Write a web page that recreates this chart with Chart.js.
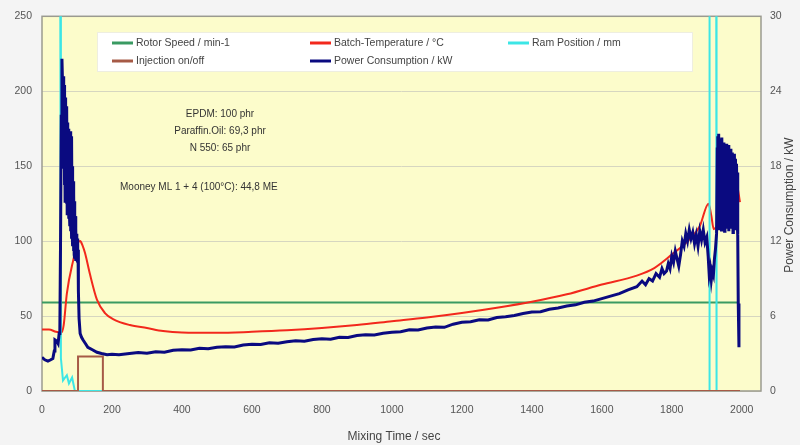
<!DOCTYPE html>
<html>
<head>
<meta charset="utf-8">
<title>Mixing Time Protocol</title>
<script src="https://cdn.jsdelivr.net/npm/chart.js@4.4.1/dist/chart.umd.min.js"></script>
<style>
  html, body { margin: 0; padding: 0; background: #f4f4f4; }
  #wrap { width: 800px; height: 445px; }
</style>
</head>
<body>
<div id="wrap"><canvas id="mixChart" width="800" height="445"></canvas></div>
<script>
// axis ticks
const timeTicks = [0, 200, 400, 600, 800, 1000, 1200, 1400, 1600, 1800, 2000];
const leftTicks = [0, 50, 100, 150, 200, 250];
const powerTicks = [0, 6, 12, 18, 24, 30];

// rotor speed / min-1
const rotorTime = [0, 1990];
const rotorSpeed = [59, 59];

// batch temperature / °C
const tempTime = [0, 20, 40, 55, 62, 71, 89, 103, 109, 116, 123, 137, 157, 180, 203, 251, 300, 346, 400, 500,
  600, 700, 800, 900, 1000, 1100, 1200, 1300, 1400, 1500, 1600, 1700, 1750, 1800, 1850, 1880, 1905, 1913, 1920,
  1950, 1985, 1995];
const batchTemp = [41, 41, 39.5, 39, 44, 65, 87, 99, 100, 97, 92, 78, 61, 52, 48, 44, 42, 40, 39, 38.8,
  39.5, 40.5, 42, 44, 46.5, 49, 52, 55.5, 59.5, 64.5, 71, 77, 82, 91, 101, 110, 125, 117, 108,
  122, 138, 126];

// ram position / mm (above 250 = out of range, ram up)
const ramTime = [0, 52, 54, 60, 66, 71, 77, 86, 94, 1907, 1908, 1927, 1928, 1995];
const ramPos = [290, 290, 22, 7, 9, 10.5, 5, 9, 0, 0, 290, 290, 0, 0];

// injection on/off
const injTime = [0, 103, 103, 174, 174, 1995];
const injection = [0, 0, 23, 23, 0, 0];

// power consumption / kW
const powerTime = [0, 8, 17, 25, 31, 35, 37, 42, 46, 49, 51, 53, 55, 57, 59, 60, 61, 62, 63, 64,
  65, 66, 67, 68, 69, 70, 71, 72, 73, 74, 75, 76, 77, 78, 79, 80, 81, 82, 83, 84,
  85, 86, 87, 88, 89, 90, 91, 92, 93, 94, 95, 96, 97, 98, 99, 100, 101, 102, 103, 104,
  106, 109, 113, 117, 124, 131, 144, 157, 170, 186, 200, 220, 250, 275, 300, 325, 350, 375, 400, 425,
  450, 475, 500, 525, 550, 575, 600, 625, 650, 675, 700, 725, 750, 775, 800, 825, 850, 875, 900, 925,
  950, 975, 1000, 1025, 1050, 1075, 1100, 1125, 1150, 1175, 1200, 1225, 1250, 1275, 1300, 1325, 1350, 1375, 1400, 1425,
  1450, 1475, 1500, 1525, 1550, 1575, 1600, 1625, 1650, 1675, 1700, 1715, 1725, 1735, 1745, 1755, 1765, 1772, 1778, 1785,
  1790, 1795, 1800, 1805, 1810, 1815, 1820, 1825, 1830, 1835, 1840, 1845, 1850, 1855, 1860, 1865, 1870, 1875, 1880, 1885,
  1890, 1895, 1900, 1904, 1907, 1910, 1913, 1916, 1919, 1922, 1925, 1928, 1930, 1931, 1932, 1933, 1934, 1936, 1937, 1939,
  1940, 1942, 1943, 1945, 1946, 1948, 1949, 1951, 1952, 1954, 1955, 1957, 1958, 1960, 1961, 1963, 1964, 1966, 1967, 1969,
  1970, 1972, 1973, 1975, 1976, 1978, 1979, 1981, 1982, 1984, 1985, 1987, 1988, 1989, 1990, 1992];
const powerKw = [2.7, 2.5, 2.4, 2.5, 2.6, 3.2, 4.1, 4.0, 3.8, 4.6, 4.9, 12, 22, 26.6, 24.3, 19.5, 25.2, 17.8, 24.5, 16.5,
  23.8, 15.2, 23.5, 16.8, 22.6, 15.0, 22.8, 14.2, 21.5, 15.5, 21.0, 13.8, 20.9, 14.5, 20.6, 13.2, 20.8, 12.8, 19.5, 12.2,
  20.4, 13.0, 18.0, 11.6, 16.8, 11.2, 15.8, 10.9, 15.2, 10.6, 14.0, 10.4, 13.0, 10.6, 12.6, 10.5, 12.2, 10.8, 11.3, 8.0,
  5.8, 4.6, 4.3, 4.1, 3.8, 3.5, 3.3, 3.1, 3.0, 2.9, 2.95, 2.9, 3.0, 3.08, 3.02, 3.15, 3.1, 3.26, 3.3, 3.28,
  3.42, 3.38, 3.5, 3.55, 3.52, 3.68, 3.75, 3.72, 3.86, 3.82, 3.95, 4.02, 3.98, 4.12, 4.18, 4.15, 4.3, 4.28, 4.45, 4.5,
  4.48, 4.62, 4.7, 4.75, 4.9, 4.88, 5.05, 5.12, 5.1, 5.35, 5.5, 5.55, 5.7, 5.68, 5.88, 5.95, 6.05, 6.2, 6.32, 6.35,
  6.55, 6.65, 6.8, 6.9, 7.1, 7.2, 7.4, 7.6, 7.8, 8.1, 8.35, 8.8, 8.5, 9.0, 8.8, 9.4, 9.1, 9.8, 9.4, 9.6,
  10.2, 9.8, 10.8, 10.3, 11.2, 10.6, 10.0, 10.9, 12.0, 11.6, 12.6, 12.0, 12.9, 12.2, 12.7, 11.8, 12.5, 11.6, 12.8, 12.1,
  12.9, 11.9, 12.3, 10.8, 9.3, 9.8, 8.9, 9.6, 9.3, 10.6, 11.4, 12.6, 19.5, 13.2, 20.4, 13.5, 20.6, 13.0, 20.2, 13.8,
  19.8, 12.9, 20.3, 13.4, 19.6, 13.1, 19.9, 12.8, 19.5, 13.6, 19.8, 13.0, 19.3, 13.3, 19.7, 12.8, 19.2, 13.5, 19.4, 13.0,
  18.9, 13.2, 19.1, 12.7, 18.8, 13.4, 19.0, 13.0, 18.6, 13.3, 18.2, 13.6, 17.5, 12.5, 7.0, 3.5];

const recipeLines = ['EPDM: 100 phr', 'Paraffin.Oil: 69,3 phr', 'N 550: 65 phr'];
const mooneyText = 'Mooney ML 1 + 4 (100°C): 44,8 ME';

const FONT = '"Liberation Sans", Arial, sans-serif';

function pairs(xs, ys) {
  return xs.map((x, i) => ({ x: x, y: ys[i] }));
}

// plot background and frame
const plotBackground = {
  id: 'plotBackground',
  beforeDraw(chart) {
    const { ctx, chartArea: a } = chart;
    ctx.save();
    ctx.fillStyle = '#f4f4f4';
    ctx.fillRect(0, 0, chart.width, chart.height);
    ctx.fillStyle = '#fcfccb';
    ctx.fillRect(a.left, a.top, a.right - a.left, a.bottom - a.top);
    ctx.restore();
  },
  beforeDatasetsDraw(chart) {
    const { ctx, chartArea: a } = chart;
    ctx.save();
    ctx.strokeStyle = '#9a9a90';
    ctx.lineWidth = 1.5;
    ctx.strokeRect(a.left, a.top, a.right - a.left, a.bottom - a.top);
    ctx.restore();
  }
};

// legend box, recipe notes and axis titles
const chartTexts = {
  id: 'chartTexts',
  afterDatasetsDraw(chart) {
    const ctx = chart.ctx;
    const ds = chart.data.datasets;
    ctx.save();

    ctx.fillStyle = '#ffffff';
    ctx.fillRect(97, 32, 595, 39);
    ctx.strokeStyle = '#eeeee0';
    ctx.lineWidth = 1;
    ctx.strokeRect(97.5, 32.5, 595, 39);

    const cols = [112, 310, 508];
    const rows = [43, 61];
    ctx.font = '10.5px ' + FONT;
    ctx.textBaseline = 'middle';
    ctx.textAlign = 'left';
    ds.forEach((d, i) => {
      const cx = cols[i < 3 ? i : i - 3];
      const cy = rows[i < 3 ? 0 : 1];
      ctx.strokeStyle = d.borderColor;
      ctx.lineWidth = 3;
      ctx.beginPath();
      ctx.moveTo(cx, cy);
      ctx.lineTo(cx + 21, cy);
      ctx.stroke();
      ctx.fillStyle = '#444';
      ctx.fillText(d.label, cx + 24, cy);
    });

    ctx.font = '10px ' + FONT;
    ctx.fillStyle = '#333';
    ctx.textAlign = 'center';
    recipeLines.forEach((t, i) => ctx.fillText(t, 220, 114 + i * 17));
    ctx.textAlign = 'left';
    ctx.fillText(mooneyText, 120, 187);

    ctx.font = '12px ' + FONT;
    ctx.fillStyle = '#444';
    ctx.textAlign = 'center';
    ctx.fillText('Mixing Time / sec', 394, 437);
    ctx.translate(790, 205);
    ctx.rotate(-Math.PI / 2);
    ctx.fillText('Power Consumption / kW', 0, 0);
    ctx.restore();
  }
};

const tickFont = { family: FONT, size: 10.5 };

const chart = new Chart(document.getElementById('mixChart'), {
  type: 'line',
  data: {
    datasets: [
      { label: 'Rotor Speed / min-1', data: pairs(rotorTime, rotorSpeed), borderColor: '#3a9a62', borderWidth: 2, yAxisID: 'y', order: 5 },
      { label: 'Batch-Temperature / °C', data: pairs(tempTime, batchTemp), borderColor: '#f2281c', borderWidth: 2, cubicInterpolationMode: 'monotone', yAxisID: 'y', order: 4 },
      { label: 'Ram Position / mm', data: pairs(ramTime, ramPos), borderColor: '#3ce6e6', borderWidth: 2, yAxisID: 'y', order: 3 },
      { label: 'Injection on/off', data: pairs(injTime, injection), borderColor: '#a65a46', borderWidth: 2, yAxisID: 'y', order: 2 },
      { label: 'Power Consumption / kW', data: pairs(powerTime, powerKw), borderColor: '#0a0a80', borderWidth: 3, yAxisID: 'y1', order: 1 }
    ]
  },
  options: {
    responsive: false,
    animation: false,
    elements: {
      point: { radius: 0 },
      line: { tension: 0, fill: false }
    },
    layout: { padding: { top: 15, right: 0, bottom: 0, left: 0 } },
    plugins: {
      legend: { display: false },
      tooltip: { enabled: false }
    },
    scales: {
      x: {
        type: 'linear',
        min: 0,
        max: 2055,
        afterBuildTicks: s => { s.ticks = timeTicks.map(v => ({ value: v })); },
        afterFit: s => { s.height = 54; },
        grid: { display: false, drawTicks: false },
        border: { display: false },
        ticks: { padding: 13, color: '#555', font: tickFont, maxRotation: 0, callback: v => String(v) }
      },
      y: {
        position: 'left',
        min: 0,
        max: 250,
        afterBuildTicks: s => { s.ticks = leftTicks.map(v => ({ value: v })); },
        afterFit: s => { s.width = 42; },
        grid: { color: '#d6d6c0', drawTicks: false },
        border: { display: false },
        ticks: { padding: 10, color: '#555', font: tickFont, callback: v => String(v) }
      },
      y1: {
        position: 'right',
        min: 0,
        max: 30,
        afterBuildTicks: s => { s.ticks = powerTicks.map(v => ({ value: v })); },
        afterFit: s => { s.width = 39; },
        grid: { drawOnChartArea: false, drawTicks: false },
        border: { display: false },
        ticks: { padding: 9, color: '#555', font: tickFont, callback: v => String(v) }
      }
    }
  },
  plugins: [plotBackground, chartTexts]
});
</script>
</body>
</html>
